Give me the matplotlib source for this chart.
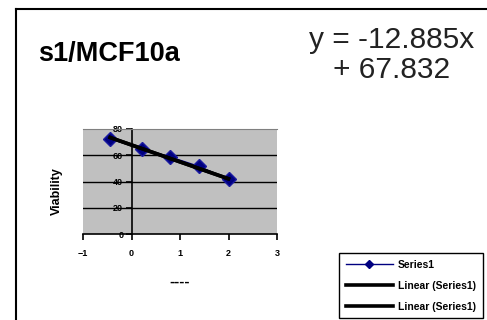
import numpy as np
import matplotlib.pyplot as plt
from matplotlib.lines import Line2D

# dose (x) vs viability (y) for s1/MCF10a
dose = [-0.44, 0.21, 0.79, 1.39, 2.0]
viability = [72.6, 64.8, 58.8, 51.5, 41.6]

# fitted trend line
slope = -12.885
intercept = 67.832

xticks = [-1, 0, 1, 2, 3]
yticks = [0, 20, 40, 60, 80]

plt.rcParams['font.family'] = ['Liberation Sans', 'DejaVu Sans']

fig = plt.figure(figsize=(4.87, 3.2), dpi=100)
fig.patch.set_facecolor('white')

ax = fig.add_axes([83 / 487, 1 - 234 / 320, 194 / 487, 105 / 320])
ax.set_facecolor('#c0c0c0')
ax.set_xlim(-1, 3)
ax.set_ylim(0, 80)

for g in [20, 40, 60]:
    ax.axhline(g, color='black', lw=1.0, zorder=1)

ax.spines['left'].set_position(('data', 0))
ax.spines['left'].set_linewidth(1.2)
ax.spines['bottom'].set_linewidth(1.2)
ax.spines['right'].set_visible(False)
ax.spines['top'].set_color('#808080')
ax.spines['top'].set_linewidth(0.8)

ax.set_xticks(xticks)
ax.set_yticks(yticks)
ax.tick_params(axis='both', direction='out', length=4, width=1.2,
               labelsize=6.5, pad=2)
ax.tick_params(axis='x', pad=7)
for lab in ax.get_xticklabels() + ax.get_yticklabels():
    lab.set_fontweight('bold')

# series with markers
ax.plot(dose, viability, color='#000080', lw=1.0, marker='D',
        markersize=7.5, markerfacecolor='#000080', markeredgecolor='#1a1aa0',
        zorder=3, clip_on=False)

# two identical linear trend lines
xt = np.array([dose[0], dose[-1]])
yt = slope * xt + intercept
ax.plot(xt, yt, color='black', lw=2.6, zorder=4)
ax.plot(xt, yt, color='black', lw=2.6, zorder=4)

ax.set_xlabel('----', fontsize=11, fontweight='bold', labelpad=12)
fig.text(57 / 487, 1 - 191 / 320, 'Viability', rotation=90, ha='center',
         va='center', fontsize=9, fontweight='bold')

fig.text(38 / 487, 1 - 61 / 320, 's1/MCF10a', fontsize=19.5,
         fontweight='bold', ha='left', va='baseline')
fig.text(392 / 487, 1 - 48 / 320, 'y = -12.885x', fontsize=21.5,
         ha='center', va='baseline', color='#222222')
fig.text(392 / 487, 1 - 78 / 320, '+ 67.832', fontsize=21.5,
         ha='center', va='baseline', color='#222222')

# outer chart frame (top and left edges)
fig.add_artist(Line2D([16 / 487, 1], [1 - 9 / 320] * 2,
                      transform=fig.transFigure, color='black', lw=1.5))
fig.add_artist(Line2D([16 / 487] * 2, [0, 1 - 9 / 320],
                      transform=fig.transFigure, color='black', lw=1.5))

handles = [
    Line2D([], [], color='#000080', lw=1.0, marker='D', markersize=4,
           markerfacecolor='#000080'),
    Line2D([], [], color='black', lw=2.6),
    Line2D([], [], color='black', lw=2.6),
]
labels = ['Series1', 'Linear (Series1)', 'Linear (Series1)']
leg = fig.legend(handles, labels, loc='upper left',
                 bbox_to_anchor=(339 / 487, 1 - 253 / 320),
                 prop={'size': 7.5, 'weight': 'bold'}, handlelength=4.5,
                 labelspacing=1.05, borderpad=0.65, handletextpad=0.5,
                 borderaxespad=0, fancybox=False, edgecolor='black',
                 framealpha=1)
leg.get_frame().set_linewidth(1.0)

fig.savefig('out.png', dpi=100)
